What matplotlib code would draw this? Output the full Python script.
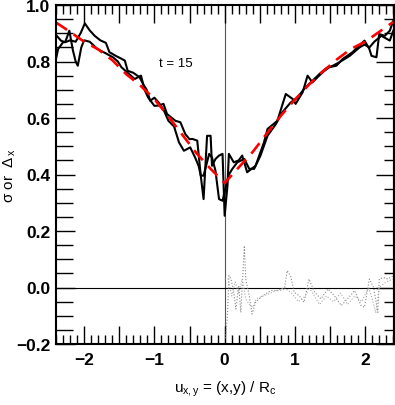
import numpy as np
import matplotlib
matplotlib.use("Agg")
import matplotlib.pyplot as plt
from matplotlib.ticker import MultipleLocator, FuncFormatter

plt.rcParams["font.family"] = ["Liberation Sans", "DejaVu Sans"]
plt.rcParams["mathtext.fontset"] = "custom"
plt.rcParams["mathtext.rm"] = "Liberation Sans"
plt.rcParams["mathtext.it"] = "Liberation Sans"
plt.rcParams["mathtext.bf"] = "Liberation Sans:bold"

u_a = [-2.40, -2.33, -2.27, -2.21, -2.16, -2.12, -2.09, -2.04, -2.00, -1.92, -1.81, -1.70,
       -1.59, -1.52, -1.47, -1.38, -1.28, -1.19, -1.14, -1.09, -1.00, -0.94, -0.87, -0.82,
       -0.70, -0.63, -0.56, -0.50, -0.46, -0.39, -0.34, -0.30, -0.25, -0.20, -0.18, -0.13,
       -0.08, -0.03, 0.00, 0.04, 0.06, 0.13, 0.20, 0.25, 0.32, 0.44, 0.56, 0.61, 0.75,
       0.87, 0.97, 1.01, 1.11, 1.18, 1.25, 1.32, 1.41, 1.49, 1.59, 1.68, 1.82, 1.94, 1.99,
       2.06, 2.09, 2.16, 2.20, 2.28, 2.35, 2.40]
sig_a = [0.894, 0.874, 0.868, 0.909, 0.840, 0.800, 0.785, 0.850, 0.875, 0.870, 0.844, 0.830,
         0.815, 0.800, 0.780, 0.760, 0.738, 0.750, 0.700, 0.673, 0.643, 0.644, 0.650, 0.614,
         0.590, 0.585, 0.543, 0.525, 0.526, 0.520, 0.396, 0.313, 0.537, 0.537, 0.431, 0.455,
         0.467, 0.473, 0.254, 0.360, 0.473, 0.443, 0.450, 0.467, 0.408, 0.431, 0.514, 0.561, 0.590,
         0.685, 0.667, 0.650, 0.691, 0.750, 0.726, 0.744, 0.765, 0.780, 0.785, 0.809, 0.833, 0.862, 0.874,
         0.844, 0.820, 0.815, 0.897, 0.891, 0.909, 0.944]

u_b = [-2.40, -2.37, -2.30, -2.25, -2.20, -2.12, -2.05, -1.99, -1.92, -1.85, -1.77, -1.69,
       -1.64, -1.55, -1.47, -1.42, -1.38, -1.30, -1.21, -1.16, -1.11, -1.06, -1.00, -0.94,
       -0.87, -0.80, -0.72, -0.65, -0.58, -0.49, -0.42, -0.37, -0.34, -0.30, -0.22, -0.18,
       -0.13, -0.11, -0.08, -0.03, 0.01, 0.06, 0.11, 0.18, 0.28, 0.35, 0.42, 0.51, 0.61,
       0.73, 0.82, 0.94, 1.04, 1.13, 1.25, 1.35, 1.44, 1.54, 1.63, 1.78, 1.92, 1.99, 2.06,
       2.13, 2.23, 2.35, 2.40]
sig_b = [0.809, 0.844, 0.868, 0.870, 0.875, 0.870, 0.900, 0.935, 0.910, 0.891, 0.875, 0.866,
         0.833, 0.820, 0.810, 0.803, 0.767, 0.760, 0.744, 0.720, 0.700, 0.661, 0.672, 0.655,
         0.630, 0.590, 0.570, 0.514, 0.484, 0.496, 0.460, 0.430, 0.396, 0.396, 0.473, 0.460,
         0.413, 0.372, 0.313, 0.307, 0.349, 0.400, 0.420, 0.443, 0.455, 0.420, 0.420, 0.467, 0.537,
         0.579, 0.620, 0.655, 0.673, 0.703, 0.732, 0.756, 0.775, 0.785, 0.797, 0.820, 0.850, 0.860, 0.850,
         0.870, 0.891, 0.874, 0.909]

# smooth model curve (red dashed)
u_fit = [-2.4, -2.2, -2.0, -1.8, -1.6, -1.4, -1.2, -1.0, -0.8, -0.6, -0.4, -0.2, 0.0,
         0.2, 0.4, 0.6, 0.8, 1.0, 1.2, 1.4, 1.6, 1.8, 2.0, 2.2, 2.4]
sig_fit = [0.938, 0.905, 0.870, 0.843, 0.805, 0.755, 0.715, 0.667, 0.605, 0.540, 0.475, 0.420, 0.370,
           0.425, 0.480, 0.545, 0.608, 0.665, 0.718, 0.765, 0.808, 0.845, 0.870, 0.905, 0.940]

# residuals (dotted), only for u > 0
u_r1 = [0.01, 0.04, 0.06, 0.09, 0.13, 0.16, 0.20, 0.23, 0.28, 0.30, 0.35, 0.39, 0.44, 0.54,
        0.66, 0.78, 0.85, 0.89, 0.94, 0.99, 1.06, 1.13, 1.20, 1.28, 1.37, 1.47, 1.56, 1.66,
        1.75, 1.85, 1.94, 1.99, 2.06, 2.12, 2.18, 2.20, 2.26, 2.32, 2.39]
res_1 = [-0.180, -0.100, 0.042, 0.030, -0.017, -0.076, 0.006, -0.088, 0.148, 0.030, -0.029, -0.094,
         -0.052, -0.029, -0.011, -0.011, -0.005, 0.060, 0.040, -0.017, -0.029, -0.052, 0.030, -0.017,
         -0.040, -0.005, -0.029, -0.064, -0.040, -0.011, -0.064, -0.070, 0.030, 0.000, -0.088, 0.030,
         0.035, 0.030, 0.040]
u_r2 = [0.00, 0.05, 0.10, 0.15, 0.20, 0.25, 0.30, 0.35, 0.40, 0.45, 0.55, 0.65, 0.75, 0.85,
        0.95, 1.05, 1.15, 1.20, 1.25, 1.35, 1.45, 1.55, 1.65, 1.75, 1.85, 1.95, 2.05, 2.10,
        2.15, 2.20, 2.30, 2.40]
res_2 = [0.030, 0.030, -0.030, 0.020, -0.020, 0.030, -0.040, -0.060, -0.070, -0.040, -0.030, -0.020,
         -0.010, 0.000, -0.020, -0.050, -0.030, 0.000, -0.020, -0.060, -0.030, -0.050, -0.020, -0.060,
         -0.030, -0.050, 0.000, -0.040, -0.090, 0.000, 0.020, 0.030]

fig = plt.figure(figsize=(3.95, 4.06), dpi=100)
ax = fig.add_axes([56 / 395, 1 - 345 / 406, 338 / 395, 339 / 406])

ax.axvline(0, color="#555555", lw=0.8, zorder=1)
ax.axhline(0, color="black", lw=0.8, zorder=1)

ax.plot(u_r1, res_1, color="#888888", lw=0.8, ls=":")
ax.plot(u_r2, res_2, color="#aaaaaa", lw=0.8, ls=":")
ax.plot(u_a, sig_a, color="black", lw=1.5)
ax.plot(u_b, sig_b, color="black", lw=1.5)
ax.plot(u_fit, sig_fit, color="red", lw=1.9, ls=(0, (5.0, 3.0)))

ax.text(-0.70, 0.795, "t = 15", fontsize=9.5, ha="center", va="center")

ax.set_xlim(-2.4, 2.41)
ax.set_ylim(-0.2, 1.0)

ax.xaxis.set_major_locator(MultipleLocator(0.5))
ax.xaxis.set_minor_locator(MultipleLocator(0.1))
ax.xaxis.set_major_formatter(FuncFormatter(
    lambda v, p: ("%d" % round(v)).replace("-", "\u2212") if abs(v - round(v)) < 1e-6 else ""))
ax.yaxis.set_major_locator(MultipleLocator(0.2))
ax.yaxis.set_minor_locator(MultipleLocator(0.05))
ax.yaxis.set_major_formatter(FuncFormatter(lambda v, p: ("%.1f" % v).replace("-", "\u2212")))

ax.tick_params(axis="both", which="both", direction="in", width=1.0, top=True, right=False)
ax.tick_params(axis="x", which="major", length=13, pad=6)
ax.tick_params(axis="x", which="minor", length=6.5)
ax.tick_params(axis="y", which="major", length=14, pad=4)
ax.tick_params(axis="y", which="minor", length=12)

sec = ax.secondary_yaxis("right")
sec.yaxis.set_major_locator(MultipleLocator(0.2))
sec.yaxis.set_minor_locator(MultipleLocator(0.05))
sec.tick_params(which="both", direction="in", width=1.0, labelright=False)
sec.tick_params(which="major", length=13)
sec.tick_params(which="minor", length=7)
sec.spines["right"].set_linewidth(1.5)

for lab in ax.get_xticklabels() + ax.get_yticklabels():
    lab.set_fontweight("bold")
    lab.set_fontsize(12.5)

for s in ax.spines.values():
    s.set_linewidth(1.5)

ax.set_ylabel(r"$\sigma$ or  $\Delta_{\,x}$", fontsize=11)
ax.yaxis.set_label_coords(-0.136, 0.5)
ax.yaxis.label.set_verticalalignment("center")
ax.set_xlabel(r"$u_{x,y}$ = (x,y) / R$_c$", fontsize=11)
ax.xaxis.set_label_coords(0.5, -0.132)
ax.xaxis.label.set_verticalalignment("center")

fig.savefig("out.png", dpi=100)
